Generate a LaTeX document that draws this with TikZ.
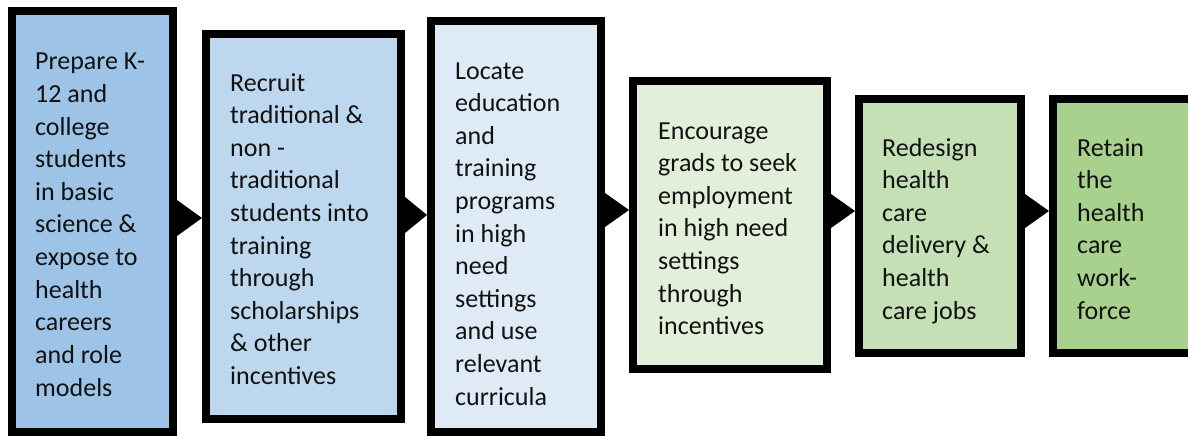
\documentclass[tikz,border=0pt]{standalone}
\usepackage{fontspec}
\setmainfont{Carlito}
\definecolor{c1}{HTML}{9DC3E6}
\definecolor{c2}{HTML}{BDD7EE}
\definecolor{c3}{HTML}{DEEBF7}
\definecolor{c4}{HTML}{E2F0D9}
\definecolor{c5}{HTML}{C5E0B4}
\definecolor{c6}{HTML}{A9D18E}
\definecolor{ink}{HTML}{111111}
\newcommand{\boxtext}[1]{\parbox[t]{6cm}{\raggedright\fontsize{26pt}{32.6pt}\selectfont #1}}
\begin{document}
\begin{tikzpicture}[x=1pt,y=-1pt,
  stepbox/.style={draw=black, line width=8pt, rectangle, inner sep=0pt},
  steptext/.style={anchor=base west, inner sep=0pt, text=ink},
  tri/.style={fill=black}]
\useasboundingbox (0,0) rectangle (1188,436);
\clip (0,0) rectangle (1188,436);
\fill[white] (0,0) rectangle (1188,436);
% boxes (centre of the border line)
\node[stepbox, fill=c1, minimum width=161pt, minimum height=421pt] (b1) at (92.5,221.5) {};
\node[stepbox, fill=c2, minimum width=195pt, minimum height=385pt] (b2) at (303.5,226.5) {};
\node[stepbox, fill=c3, minimum width=170pt, minimum height=411pt] (b3) at (516,226.5) {};
\node[stepbox, fill=c4, minimum width=194pt, minimum height=288pt] (b4) at (730,225) {};
\node[stepbox, fill=c5, minimum width=162pt, minimum height=254pt] (b5) at (940,226) {};
\node[stepbox, fill=c6, minimum width=143pt, minimum height=254pt] (b6) at (1124.5,226) {};
% texts
\node[steptext] (t1) at (35,70) {\boxtext{Prepare K-\\12 and\\college\\students\\in basic\\science \&\\expose to\\health\\careers\\and role\\models}};
\node[steptext] (t2) at (230,91) {\boxtext{Recruit\\traditional \&\\non -\\traditional\\students into\\training\\through\\scholarships\\\& other\\incentives}};
\node[steptext] (t3) at (455,79) {\boxtext{Locate\\education\\and\\training\\programs\\in high\\need\\settings\\and use\\relevant\\curricula}};
\node[steptext] (t4) at (658,139) {\boxtext{Encourage\\grads to seek\\employment\\in high need\\settings\\through\\incentives}};
\node[steptext] (t5) at (882,156) {\boxtext{Redesign\\health\\care\\delivery \&\\health\\care jobs}};
\node[steptext] (t6) at (1077,156) {\boxtext{Retain\\the\\health\\care\\work-\\force}};
% triangles
\fill[tri] (b1.east |- 0,200) -- (b2.west |- 0,218) -- (b1.east |- 0,236) -- cycle;
\fill[tri] (b2.east |- 0,197) -- (b3.west |- 0,215) -- (b2.east |- 0,233) -- cycle;
\fill[tri] (b3.east |- 0,193) -- (b4.west |- 0,210) -- (b3.east |- 0,227) -- cycle;
\fill[tri] (b4.east |- 0,194) -- (b5.west |- 0,211) -- (b4.east |- 0,228) -- cycle;
\fill[tri] (b5.east |- 0,194) -- (b6.west |- 0,211) -- (b5.east |- 0,228) -- cycle;
\end{tikzpicture}
\end{document}
